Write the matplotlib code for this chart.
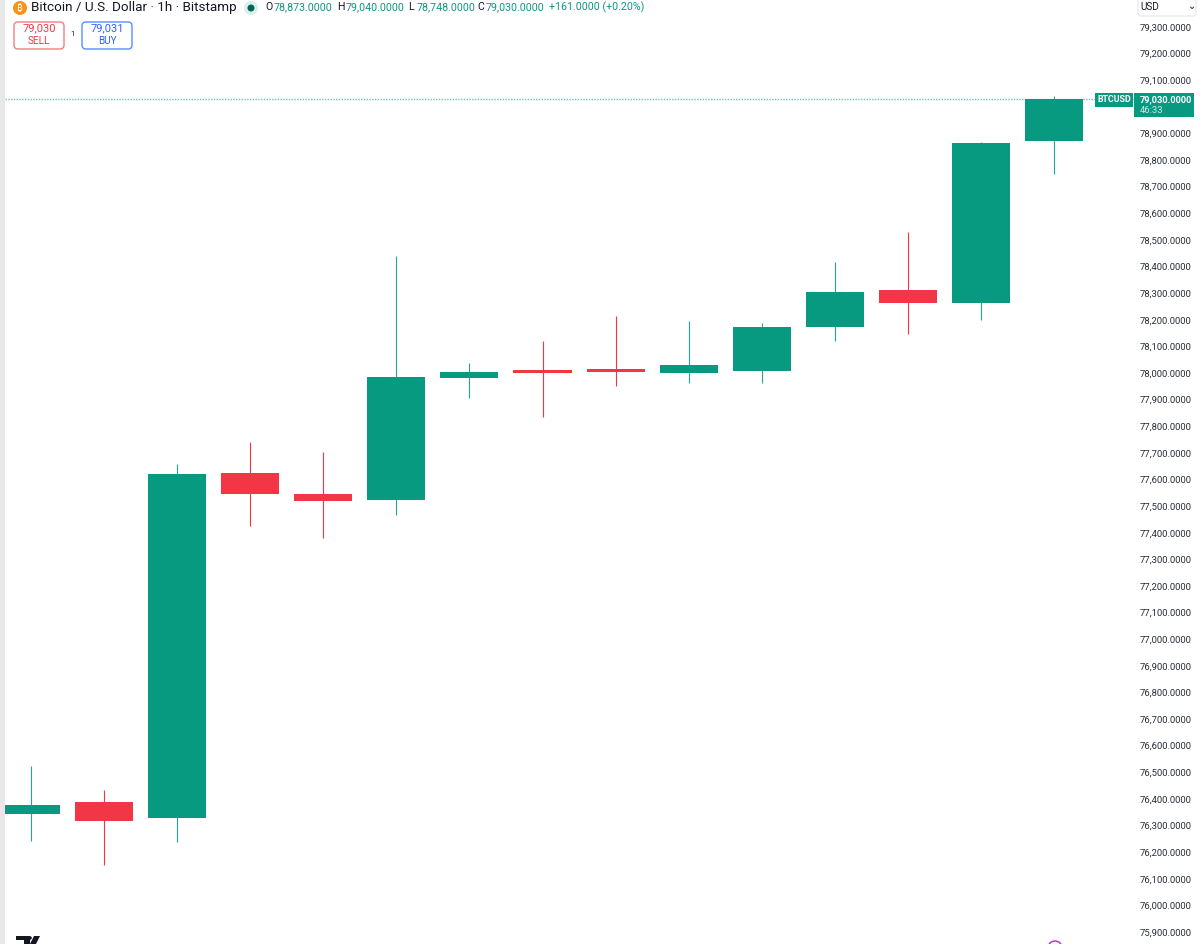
import matplotlib
matplotlib.use('Agg')
import matplotlib.pyplot as plt
from matplotlib.patches import Rectangle, FancyBboxPatch, Circle, Polygon

plt.rcParams['font.family'] = ['Roboto', 'DejaVu Sans']

# hourly candles
opens = [76344, 76389, 76329, 77625, 77546, 77523, 77982, 78012, 78015, 78000, 78008, 78173, 78312, 78263, 78873]
highs = [76524, 76434, 77658, 77741, 77703, 78440, 78038, 78120, 78214, 78195, 78188, 78417, 78530, 78868, 79040]
lows = [76242, 76152, 76238, 77425, 77380, 77467, 77906, 77835, 77951, 77963, 77963, 78120, 78147, 78199, 78748]
closes = [76377, 76317, 77621, 77546, 77520, 77985, 78004, 78000, 78004, 78030, 78173, 78305, 78263, 78864, 79030]
# 79,000 sits under the last price tag in the screenshot
price_ticks = [p for p in range(75900, 79400, 100) if p != 79000]
last_price = 79030

GREEN = '#089981'
GREEN_WICK = '#22a892'
RED = '#f23645'
W, H = 1200, 944

fig = plt.figure(figsize=(W / 100, H / 100), dpi=100)

# price chart, lined up with the pixels of the screenshot
ax = fig.add_axes([5 / W, 0, (1134 - 5) / W, 1])
ax.set_xlim(-0.356, 15.095)
ax.set_ylim(75855, 79401)
for s in ax.spines.values():
    s.set_visible(False)
ax.set_xticks([])
ax.yaxis.tick_right()
ax.set_yticks(price_ticks)
ax.set_yticklabels(['{:,.4f}'.format(p) for p in price_ticks])
ax.tick_params(axis='y', length=0, pad=4.3, labelsize=6.8, labelcolor='#2a2e39')

body_w = 0.794
for i in range(len(opens)):
    up = closes[i] >= opens[i]
    ax.plot([i, i], [lows[i], highs[i]], color=GREEN_WICK if up else RED, lw=0.8, solid_capstyle='butt', zorder=2)
    ax.bar(i, abs(closes[i] - opens[i]), body_w, bottom=min(opens[i], closes[i]), color=GREEN if up else RED, zorder=3)

ax.axhline(last_price, color='#6cc4b4', lw=1, ls=(0, (1, 1)), zorder=1)

# overlay in pixel coords for the TradingView chrome
ov = fig.add_axes([0, 0, 1, 1])
ov.set_xlim(0, W)
ov.set_ylim(H, 0)
ov.axis('off')
ov.patch.set_alpha(0)

ov.add_patch(Rectangle((0, 0), 5, H, color='#e8e8e8', lw=0))

# title line
ov.add_patch(Circle((20, 8), 7, color='#f7931a', lw=0))
ov.text(20, 8, '₿', color='white', fontsize=7, ha='center', va='center',
        family=['Noto Sans', 'Inter', 'Open Sans', 'Roboto'])
ov.text(31, 7.5, 'Bitcoin / U.S. Dollar · 1h · Bitstamp', fontsize=9.7, color='#131722', va='center')
ov.add_patch(Circle((251, 8), 7, color='#d9efeb', lw=0))
ov.add_patch(Circle((251, 8), 3.5, color='#056656', lw=0))

labels = ['O', 'H', 'L', 'C']
vals = [78873, 79040, 78748, 79030]
xs = [265, 337, 408, 477]
for k in range(4):
    ov.text(xs[k], 7.5, labels[k], fontsize=7.6, color='#131722', va='center')
    ov.text(xs[k] + 8.5, 7.5, '{:,.4f}'.format(vals[k]), fontsize=7.7, color=GREEN, va='center')
ov.text(549, 7.5, '+161.0000 (+0.20%)', fontsize=7.7, color=GREEN, va='center')

# sell / buy boxes
ov.add_patch(FancyBboxPatch((15, 23), 48, 25, boxstyle='round,pad=1,rounding_size=4', fc='white', ec='#f77c80', lw=1))
ov.text(39, 28.5, '79,030', fontsize=8, color=RED, ha='center', va='center')
ov.text(38.5, 40.5, 'SELL', fontsize=7.2, color=RED, ha='center', va='center')
ov.text(73, 34, '1', fontsize=5.5, color='#131722', ha='center', va='center')
ov.add_patch(FancyBboxPatch((83, 23), 48, 25, boxstyle='round,pad=1,rounding_size=4', fc='white', ec='#5b8cff', lw=1))
ov.text(107, 28.5, '79,031', fontsize=8, color='#2962ff', ha='center', va='center')
ov.text(107, 40.5, 'BUY', fontsize=7.2, color='#2962ff', ha='center', va='center')

# last price tags
ov.add_patch(Rectangle((1095, 93), 38, 14, color=GREEN, lw=0))
ov.text(1114, 100, 'BTCUSD', fontsize=6.4, color='white', ha='center', va='center', weight='bold')
ov.add_patch(Rectangle((1134, 93), 59.5, 24, color=GREEN, lw=0))
ov.text(1140, 99.5, '79,030.0000', fontsize=6.7, color='white', va='center', weight='bold')
ov.text(1140, 110.5, '46:33', fontsize=6.8, color='#cfeae5', va='center')

# currency button
ov.add_patch(FancyBboxPatch((1138, -4), 58, 20, boxstyle='round,pad=0,rounding_size=3', fc='white', ec='#ececec', lw=1))
ov.text(1140, 7.5, 'USD', fontsize=7.2, color='#131722', va='center')
ov.text(1192, 6, '⌄', fontsize=7, color='#131722', ha='center', va='center', family='DejaVu Sans')

# bits cut off by the bottom edge
ov.add_patch(Polygon([(16, 936), (30, 936), (30, 944), (24, 944), (24, 940), (16, 940)], color='#131722', lw=0))
ov.add_patch(Circle((30, 938), 1.8, color='#131722', lw=0))
ov.add_patch(Polygon([(34, 936), (40, 936), (36, 944), (30, 944)], color='#131722', lw=0))
ov.add_patch(Circle((1055, 948), 7, fc='white', ec='#b02fc0', lw=1))

fig.savefig('out.png', dpi=100)
